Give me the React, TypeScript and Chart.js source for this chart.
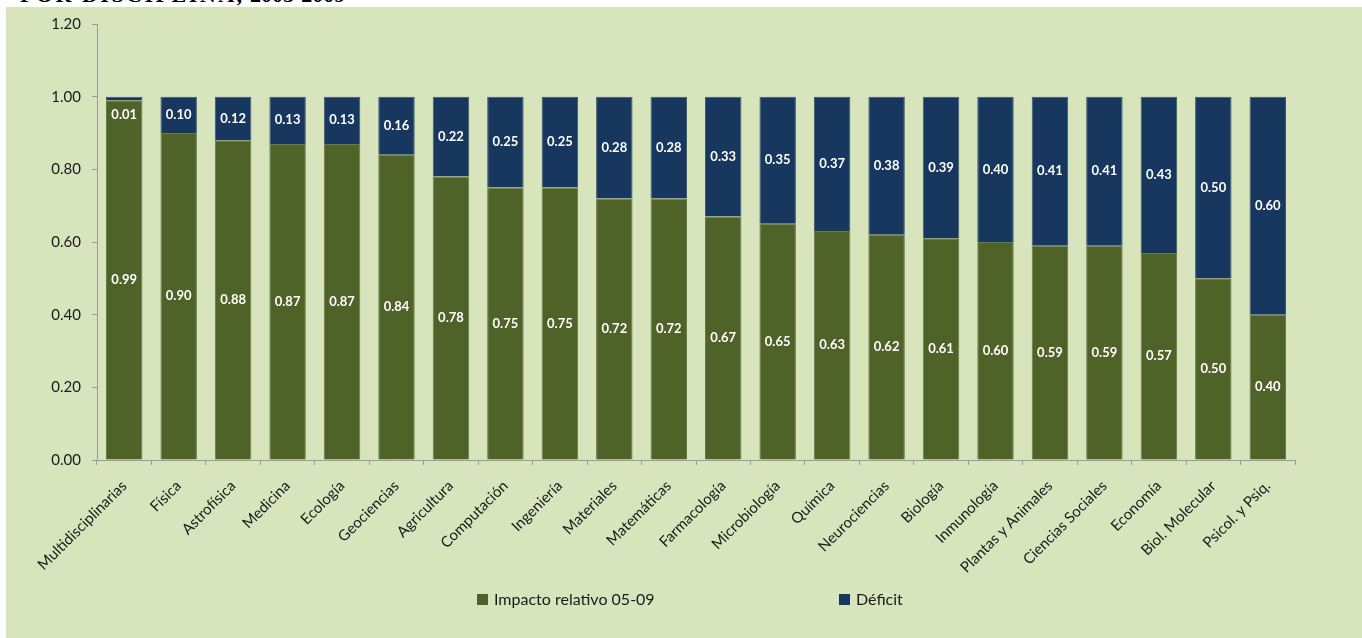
import React, { useEffect, useRef } from "react";
import { Chart, registerables } from "chart.js";

Chart.register(...registerables);

const categories = [
  "Multidisciplinarias", "Física", "Astrofísica", "Medicina", "Ecología", "Geociencias",
  "Agricultura", "Computación", "Ingeniería", "Materiales", "Matemáticas", "Farmacología",
  "Microbiología", "Química", "Neurociencias", "Biología", "Inmunología", "Plantas y Animales",
  "Ciencias Sociales", "Economía", "Biol. Molecular", "Psicol. y Psiq.",
];
const impacto = [0.99, 0.9, 0.88, 0.87, 0.87, 0.84, 0.78, 0.75, 0.75, 0.72, 0.72, 0.67, 0.65, 0.63, 0.62, 0.61, 0.6, 0.59, 0.59, 0.57, 0.5, 0.4];
const deficit = [0.01, 0.1, 0.12, 0.13, 0.13, 0.16, 0.22, 0.25, 0.25, 0.28, 0.28, 0.33, 0.35, 0.37, 0.38, 0.39, 0.4, 0.41, 0.41, 0.43, 0.5, 0.6];
const seriesNames = ["Impacto relativo 05-09", "Déficit"];
const yTicks = [0, 0.2, 0.4, 0.6, 0.8, 1.0, 1.2];

const GREEN = "#4F6228";
const BLUE = "#17375E";
const BG = "#D8E4BC";
const FONT = 'Lato, "Open Sans", sans-serif';

const labelPlugin = {
  id: "valueLabels",
  afterDatasetsDraw(chart: any) {
    const ctx = chart.ctx;
    ctx.save();
    ctx.fillStyle = "#ffffff";
    ctx.font = `bold 13px ${FONT}`;
    ctx.textAlign = "center";
    ctx.textBaseline = "middle";
    chart.data.datasets.forEach((ds: any, di: number) => {
      const meta = chart.getDatasetMeta(di);
      meta.data.forEach((el: any, i: number) => {
        const top = Math.min(el.y, el.base);
        const bottom = Math.max(el.y, el.base);
        let cy = (top + bottom) / 2;
        if (di === 1) cy = Math.max(cy, top + 18);
        ctx.fillText(Number(ds.data[i]).toFixed(2), el.x, cy);
      });
    });
    ctx.restore();
  },
};

const legendPlugin = {
  id: "customLegend",
  afterDraw(chart: any) {
    const ctx = chart.ctx;
    const items = [
      { x: 471, color: GREEN, text: seriesNames[0] },
      { x: 833, color: BLUE, text: seriesNames[1] },
    ];
    ctx.save();
    ctx.font = `16px ${FONT}`;
    ctx.textBaseline = "middle";
    ctx.textAlign = "left";
    items.forEach((it) => {
      ctx.fillStyle = it.color;
      ctx.fillRect(it.x, 587, 11, 11);
      ctx.fillStyle = "#1a1a1a";
      ctx.fillText(it.text, it.x + 17, 593);
    });
    ctx.restore();
  },
};

export default function App() {
  const ref = useRef<HTMLCanvasElement | null>(null);

  useEffect(() => {
    if (!ref.current) return;
    const chart = new Chart(ref.current, {
      type: "bar",
      data: {
        labels: categories,
        datasets: [
          {
            label: seriesNames[0],
            data: impacto,
            backgroundColor: GREEN,
            borderColor: "#687d46",
            borderWidth: 1,
            categoryPercentage: 0.67,
            barPercentage: 1,
          },
          {
            label: seriesNames[1],
            data: deficit,
            backgroundColor: BLUE,
            borderColor: "#3d5a76",
            borderWidth: 1,
            categoryPercentage: 0.67,
            barPercentage: 1,
          },
        ],
      },
      options: {
        responsive: false,
        animation: false,
        layout: { padding: { left: 0, right: 67, top: 17, bottom: 0 } },
        plugins: {
          legend: { display: false },
          tooltip: { enabled: false },
          title: { display: false },
        },
        scales: {
          x: {
            stacked: true,
            grid: { display: true, drawOnChartArea: false, tickLength: 5, color: "#9a9a9a", offset: true },
            border: { display: true, color: "#9a9a9a" },
            ticks: {
              autoSkip: false,
              maxRotation: 45,
              minRotation: 45,
              padding: 12,
              color: "#1a1a1a",
              font: { family: FONT, size: 15 },
            },
            afterFit: (scale: any) => {
              scale.height = 178;
            },
          },
          y: {
            stacked: true,
            min: 0,
            max: 1.2,
            afterBuildTicks: (scale: any) => {
              scale.ticks = yTicks.map((v) => ({ value: v }));
            },
            grid: { display: true, drawOnChartArea: false, tickLength: 5, color: "#9a9a9a" },
            border: { display: true, color: "#9a9a9a" },
            ticks: {
              padding: 11,
              color: "#1a1a1a",
              font: { family: FONT, size: 15 },
              callback: (v: any) => Number(v).toFixed(2),
            },
            afterFit: (scale: any) => {
              scale.width = 91;
              scale.paddingTop = 9;
              scale.paddingBottom = 9;
            },
          },
        },
      },
      plugins: [labelPlugin, legendPlugin],
    });
    return () => chart.destroy();
  }, []);

  return (
    <div style={{ position: "fixed", left: 0, top: 0, width: 1362, height: 638, background: "#ffffff", overflow: "hidden" }}>
      <div
        style={{
          position: "absolute",
          left: 0,
          top: 0,
          width: 1362,
          height: 7,
          overflow: "hidden",
        }}
      >
        <div
          style={{
            position: "absolute",
            left: 20,
            top: -16,
            whiteSpace: "nowrap",
            fontFamily: '"Liberation Serif", "DejaVu Serif", serif',
            fontWeight: "bold",
            fontSize: 22,
            lineHeight: "22px",
            color: "#000",
          }}
        >
          <span style={{ letterSpacing: 2.5 }}>POR DISCIPLINA,</span> 2005-2009
        </div>
      </div>
      <canvas
        ref={ref}
        width={1356}
        height={631}
        style={{ position: "absolute", left: 6, top: 7, width: 1356, height: 631, background: BG }}
      />
    </div>
  );
}
